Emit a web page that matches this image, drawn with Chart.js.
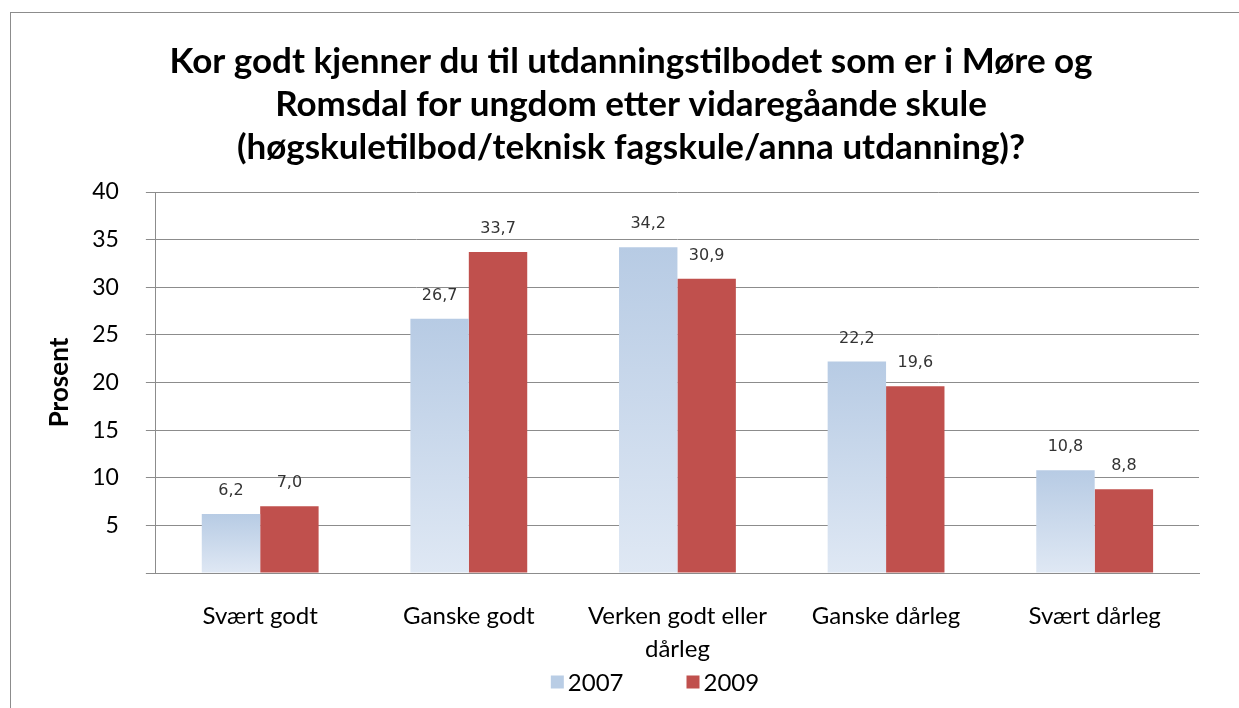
<!DOCTYPE html>
<html>
<head>
<meta charset="utf-8">
<script src="https://cdn.jsdelivr.net/npm/chart.js@4.4.0/dist/chart.umd.min.js"></script>
<style>
  html, body { margin: 0; padding: 0; background: #fff; }
  #wrap { width: 1239px; height: 708px; position: relative; }
</style>
</head>
<body>
<div id="wrap"><canvas id="chart"></canvas></div>
<script>
const categories = ["Svært godt", "Ganske godt", ["Verken godt eller", "dårleg"], "Ganske dårleg", "Svært dårleg"];
const values2007 = [6.2, 26.7, 34.2, 22.2, 10.8];
const values2009 = [7.0, 33.7, 30.9, 19.6, 8.8];
const yTicks = [0, 5, 10, 15, 20, 25, 30, 35, 40];
const titleLines = [
    "Kor godt kjenner du til utdanningstilbodet som er i Møre og",
    "Romsdal for ungdom etter vidaregåande skule",
    "(høgskuletilbod/teknisk fagskule/anna utdanning)?"
];
const legendColors = ["#b9cde5", "#c0504d"];

// light blue bar with a soft vertical gradient, like the original
function blueFill(ctx) {
    const chart = ctx.chart;
    const area = chart.chartArea;
    if (ctx.type !== "data" || !area || !ctx.parsed) return legendColors[0];
    const top = chart.scales.y.getPixelForValue(ctx.parsed.y);
    const g = chart.ctx.createLinearGradient(0, top, 0, area.bottom);
    g.addColorStop(0, "#b7cbe4");
    g.addColorStop(1, "#dfe8f4");
    return g;
}

// value labels above bars, with comma as decimal mark
const barLabels = {
    id: "barLabels",
    afterDatasetsDraw(chart) {
        const c = chart.ctx;
        c.save();
        c.font = "16px 'DejaVu Sans'";
        c.fillStyle = "#333";
        c.textAlign = "center";
        c.textBaseline = "middle";
        chart.data.datasets.forEach((ds, i) => {
            chart.getDatasetMeta(i).data.forEach((bar, j) => {
                c.fillText(ds.data[j].toFixed(1).replace(".", ","), bar.x, bar.y - 23);
            });
        });
        c.restore();
    }
};

// grey frame, title and legend drawn around the plot
const decor = {
    id: "decor",
    beforeDraw(chart) {
        const c = chart.ctx;
        c.save();
        c.strokeStyle = "#8c8c8c";
        c.lineWidth = 1;
        c.strokeRect(10.5, 12.5, 2000, 2000);

        c.fillStyle = "#000";
        c.textAlign = "center";
        c.textBaseline = "middle";
        c.font = "bold 35px Lato";
        titleLines.forEach((line, i) => c.fillText(line, 631, 62 + i * 43));

        // legend
        c.font = "24px Lato";
        c.textAlign = "left";
        const box = 13, gapText = 4, gapItem = 63;
        const items = chart.data.datasets.map((ds, i) => ({
            text: ds.label,
            color: legendColors[i],
            w: box + gapText + c.measureText(ds.label).width
        }));
        const total = items.reduce((s, it) => s + it.w, 0) + gapItem * (items.length - 1);
        let x = 655 - total / 2;
        const y = 682;
        items.forEach(it => {
            c.fillStyle = it.color;
            c.fillRect(x, y - box / 2, box, box);
            c.fillStyle = "#000";
            c.fillText(it.text, x + box + gapText, y + 1);
            x += it.w + gapItem;
        });
        c.restore();
    }
};

new Chart(document.getElementById("chart"), {
    type: "bar",
    data: {
        labels: categories,
        datasets: [
            { label: "2007", data: values2007, backgroundColor: blueFill },
            { label: "2009", data: values2009, backgroundColor: "#c0504d" }
        ]
    },
    plugins: [decor, barLabels],
    options: {
        responsive: true,
        maintainAspectRatio: false,
        animation: false,
        layout: { padding: { left: 44, right: 40, top: 192, bottom: 15 } },
        datasets: {
            bar: { categoryPercentage: 0.56, barPercentage: 1.0 }
        },
        plugins: {
            title: { display: false },
            legend: { display: false },
            tooltip: { enabled: false }
        },
        scales: {
            x: {
                grid: { display: false, drawTicks: false },
                border: { display: true, color: "#8c8c8c" },
                ticks: {
                    color: "#000",
                    font: { family: "Lato", size: 24, lineHeight: 1.375 },
                    padding: 27,
                    maxRotation: 0
                }
            },
            y: {
                min: 0,
                max: 40,
                afterBuildTicks(scale) {
                    scale.ticks = yTicks.map(v => ({ value: v }));
                },
                grid: { color: "#8c8c8c", tickLength: 10 },
                border: { display: true, color: "#8c8c8c" },
                ticks: {
                    color: "#000",
                    font: { family: "Lato", size: 23 },
                    padding: 27,
                    callback: v => (v === 0 ? "" : v)
                },
                title: {
                    display: true,
                    text: "Prosent",
                    color: "#000",
                    font: { family: "Lato", size: 26, weight: "bold" },
                    padding: { top: 0, bottom: -10 }
                }
            }
        }
    }
});
</script>
</body>
</html>
